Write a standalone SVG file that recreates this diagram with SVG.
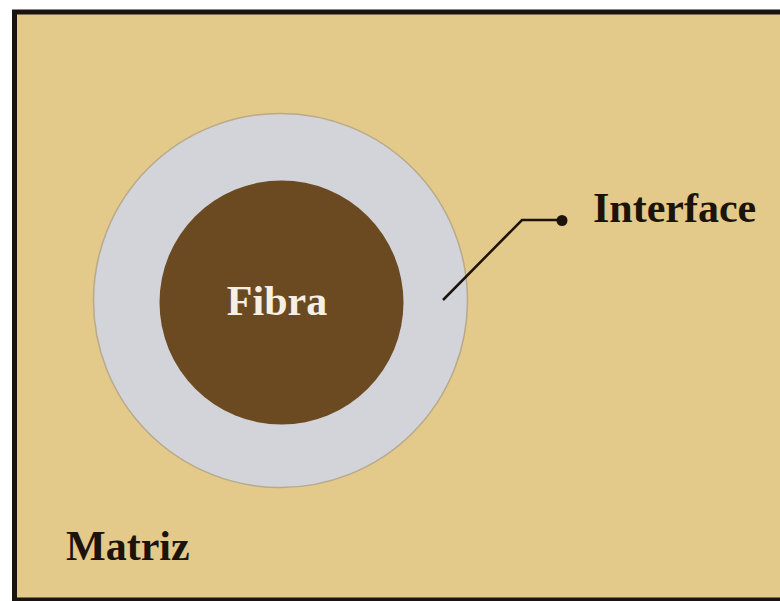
<svg xmlns="http://www.w3.org/2000/svg" width="780" height="601" viewBox="0 0 780 601">
  <style>
    .label { font-family: "Liberation Serif", "Times New Roman", serif; font-weight: bold; font-size: 42px; }
    .dark { fill: #1c140a; }
    .light { fill: #f6f0e4; }
    .leader { fill: none; stroke: #1c140a; stroke-width: 2.5; }
  </style>
  <rect width="780" height="601" fill="#ffffff"/>
  <!-- matrix panel -->
  <g id="matriz">
    <rect x="14.5" y="12" width="780" height="588" fill="#e3c98a" stroke="#1a1410" stroke-width="5"/>
    <text class="label dark" x="66" y="560">Matriz</text>
  </g>
  <!-- interface ring -->
  <g id="interface-ring">
    <circle cx="280.5" cy="300.5" r="187" fill="#d3d4da" stroke="#b8aa8a" stroke-width="1.5"/>
  </g>
  <!-- fibre core -->
  <g id="fibra">
    <circle cx="281.5" cy="302.5" r="122" fill="#6b4a22"/>
    <text class="label light" x="277" y="315" text-anchor="middle">Fibra</text>
  </g>
  <g id="connectors">
    <polyline class="leader" points="443,300 522,220 562,220"/>
    <circle cx="562" cy="220.5" r="5.5" fill="#1c140a"/>
  </g>
  <g id="interface-label">
    <text class="label dark" x="593" y="222">Interface</text>
  </g>
</svg>
